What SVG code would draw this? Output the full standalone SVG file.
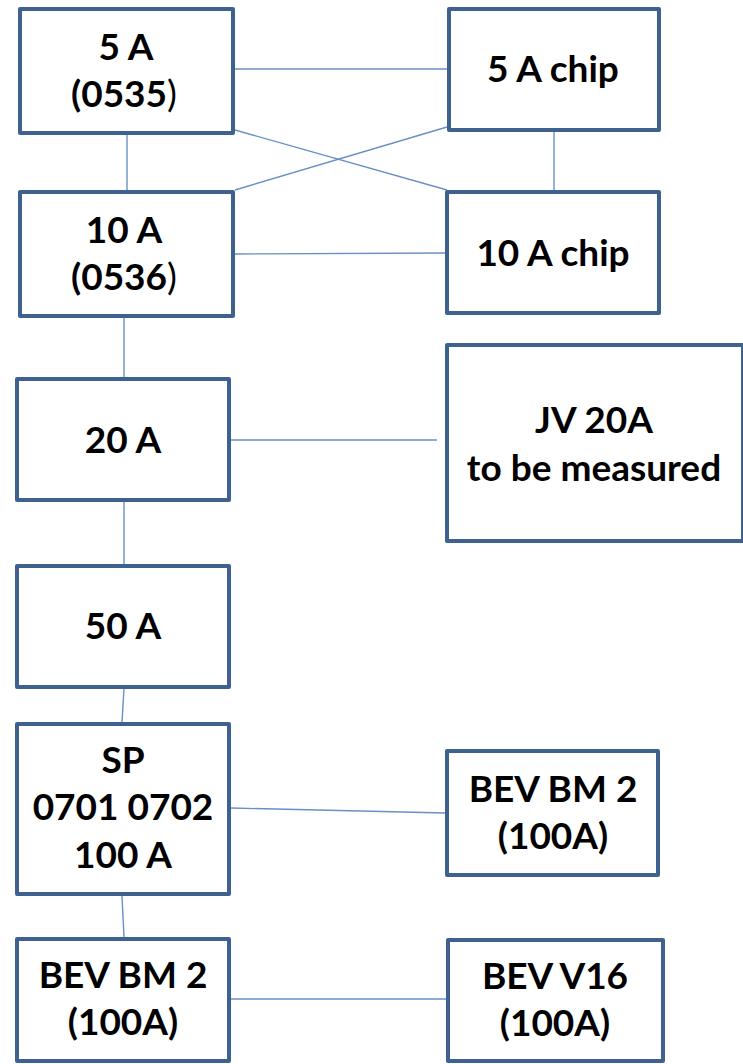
<svg xmlns="http://www.w3.org/2000/svg" width="743" height="1064" viewBox="0 0 743 1064">
<style>
.box{fill:#ffffff;stroke:#3e6190;stroke-width:4;stroke-linejoin:round}
.lbl{font-family:Lato,"Open Sans","Liberation Sans",sans-serif;font-weight:700;font-size:37px;fill:#000;text-anchor:middle}
.thin{font-weight:400}
#connectors line{stroke:#6790c6;stroke-width:1.4;fill:none}
</style>
<rect width="743" height="1064" fill="#ffffff"/>
<g id="connectors">
<line x1="235" y1="69" x2="447" y2="69"/>
<line x1="235" y1="130" x2="447" y2="190"/>
<line x1="235" y1="190" x2="447" y2="127"/>
<line x1="127" y1="133" x2="127" y2="190"/>
<line x1="554" y1="131" x2="554" y2="190"/>
<line x1="235" y1="254" x2="447" y2="253"/>
<line x1="124" y1="318" x2="124" y2="377"/>
<line x1="231" y1="440" x2="437" y2="440"/>
<line x1="124" y1="502" x2="124" y2="564"/>
<line x1="124" y1="689" x2="122" y2="722"/>
<line x1="231" y1="808" x2="445" y2="813"/>
<line x1="122" y1="896" x2="124" y2="937"/>
<line x1="231" y1="999" x2="446" y2="999"/>
</g>
<g id="n5a">
<rect class="box" x="20" y="9" width="213" height="124"/>
<text class="lbl" x="126" y="60">5 A</text>
<text class="lbl" x="124" y="107">(0535<tspan class="thin">)</tspan></text>
</g>
<g id="n5achip">
<rect class="box" x="449" y="9" width="210" height="121"/>
<text class="lbl" x="553" y="82">5 A chip</text>
</g>
<g id="n10a">
<rect class="box" x="20" y="192" width="213" height="124"/>
<text class="lbl" x="124" y="243">10 A</text>
<text class="lbl" x="124" y="290">(0536<tspan class="thin">)</tspan></text>
</g>
<g id="n10achip">
<rect class="box" x="447" y="192" width="212" height="121"/>
<text class="lbl" x="553" y="266">10 A chip</text>
</g>
<g id="n20a">
<rect class="box" x="17" y="379" width="212" height="121"/>
<text class="lbl" x="123" y="453">20 A</text>
</g>
<g id="njv">
<rect class="box" x="447" y="345" width="296" height="196"/>
<text class="lbl" x="594" y="433">JV 20A</text>
<text class="lbl" x="594" y="481">to be measured</text>
</g>
<g id="n50a">
<rect class="box" x="17" y="566" width="212" height="121"/>
<text class="lbl" x="123" y="639">50 A</text>
</g>
<g id="nsp">
<rect class="box" x="17" y="724" width="212" height="170"/>
<text class="lbl" x="123" y="773">SP</text>
<text class="lbl" x="123" y="820">0701 0702</text>
<text class="lbl" x="123" y="868">100 A</text>
</g>
<g id="nbevbm2r">
<rect class="box" x="447" y="751" width="211" height="124"/>
<text class="lbl" x="553" y="802">BEV BM 2</text>
<text class="lbl" x="553" y="849">(100A)</text>
</g>
<g id="nbevbm2l">
<rect class="box" x="17" y="939" width="212" height="122"/>
<text class="lbl" x="123" y="988">BEV BM 2</text>
<text class="lbl" x="123" y="1035">(100A)</text>
</g>
<g id="nbevv16">
<rect class="box" x="448" y="940" width="215" height="121"/>
<text class="lbl" x="555" y="989">BEV V16</text>
<text class="lbl" x="555" y="1036">(100A)</text>
</g>
</svg>
